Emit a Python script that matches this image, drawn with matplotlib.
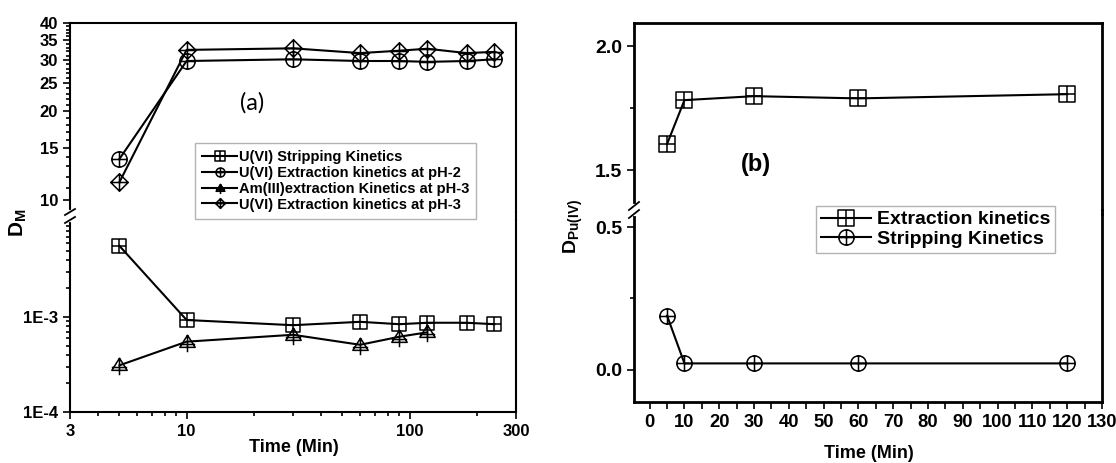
import matplotlib
matplotlib.use("Agg")
import matplotlib.pyplot as plt
from matplotlib.lines import Line2D
from matplotlib.path import Path
from matplotlib.ticker import FixedLocator, NullFormatter, LogLocator

# ---- data ----
# panel (a): log time axis
time_a = [5, 10, 30, 60, 90, 120, 180, 240]
time_am = [5, 10, 30, 60, 90, 120]
u_strip = [5.6e-3, 9.3e-4, 8.2e-4, 8.9e-4, 8.4e-4, 8.7e-4, 8.7e-4, 8.4e-4]
u_ext_ph2 = [13.8, 29.7, 30.1, 29.7, 29.7, 29.5, 29.7, 30.1]
am_ext_ph3 = [3.1e-4, 5.5e-4, 6.5e-4, 5.1e-4, 6.2e-4, 6.9e-4]
u_ext_ph3 = [11.5, 32.4, 32.8, 31.6, 32.2, 32.7, 31.6, 31.9]
labels_a = [
    "U(VI) Stripping Kinetics",
    "U(VI) Extraction kinetics at pH-2",
    "Am(III)extraction Kinetics at pH-3",
    "U(VI) Extraction kinetics at pH-3",
]

# panel (b): linear time axis
time_b = [5, 10, 30, 60, 120]
pu_ext = [1.605, 1.782, 1.798, 1.789, 1.806]
pu_strip = [0.19, 0.023, 0.023, 0.023, 0.023]
labels_b = ["Extraction kinetics", "Stripping Kinetics"]

plt.rcParams["font.family"] = ["Liberation Sans", "DejaVu Sans"]
plt.rcParams["font.weight"] = "bold"
plt.rcParams["mathtext.fontset"] = "custom"
plt.rcParams["mathtext.rm"] = "Liberation Sans"
plt.rcParams["mathtext.bf"] = "Liberation Sans:bold"

W, H = 1116, 463


def fx(px):
    return px / W


def fy(py):
    return 1 - py / H


def rect(left, top, right, bottom):
    return [fx(left), fy(bottom), (right - left) / W, (bottom - top) / H]


# Origin-style symbols: outline with a cross inside
M, L, C = Path.MOVETO, Path.LINETO, Path.CLOSEPOLY
cross = Path([(-1, 0), (1, 0), (0, -1), (0, 1)], [M, L, M, L])
sq_plus = Path.make_compound_path(
    Path([(-1, -1), (1, -1), (1, 1), (-1, 1), (-1, -1)], [M, L, L, L, C]), cross)
circ_plus = Path.make_compound_path(Path.unit_circle(), cross)
dia_plus = Path.make_compound_path(
    Path([(0, -1), (1, 0), (0, 1), (-1, 0), (0, -1)], [M, L, L, L, C]), cross)
tri_plus = Path.make_compound_path(
    Path([(0, 0.9), (0.95, -0.6), (-0.95, -0.6), (0, 0.9)], [M, L, L, C]),
    Path([(-0.95, -0.25), (0.95, -0.25), (0, 0.9), (0, -1.2)], [M, L, M, L]))

line_kw = dict(color="black", lw=1.5, mfc="none", mec="black", mew=1.1)

fig = plt.figure(figsize=(W / 100, H / 100), dpi=100)


def style_axes(ax, size, lw):
    ax.patch.set_visible(False)
    for s in ax.spines.values():
        s.set_linewidth(lw)
    ax.tick_params(which="both", direction="out", labelsize=size, width=1.2)
    ax.tick_params(which="major", length=5)
    ax.tick_params(which="minor", length=3)


def break_marks(x, y0, y1, slant):
    # white gap on the spine plus two short slashes
    fig.add_artist(Line2D([fx(x), fx(x)], [fy(y0), fy(y1)], color="white", lw=3))
    for y in (y0, y1):
        fig.add_artist(Line2D([fx(x - 5), fx(x + 5)], [fy(y + slant), fy(y - slant)],
                              color="black", lw=1.3))


# ---------------- panel (a) ----------------
a_top = fig.add_axes(rect(70, 23, 516, 212))
a_bot = fig.add_axes(rect(70, 220, 516, 412), sharex=a_top)
for ax in (a_top, a_bot):
    style_axes(ax, 12, 1.5)
    ax.set_xscale("log")
    ax.set_yscale("log")

a_top.plot(time_a, u_ext_ph2, marker=circ_plus, ms=11, **line_kw)
a_top.plot(time_a, u_ext_ph3, marker=dia_plus, ms=12.5, **line_kw)
a_bot.plot(time_a, u_strip, marker=sq_plus, ms=10, **line_kw)
a_bot.plot(time_am, am_ext_ph3, marker=tri_plus, ms=14, **line_kw)

a_top.set_ylim(9.1, 40)
a_top.set_yticks([10, 15, 20, 25, 30, 35, 40], labels=["10", "15", "20", "25", "30", "35", "40"])
a_top.yaxis.set_minor_locator(FixedLocator(range(10, 41)))
a_top.yaxis.set_minor_formatter(NullFormatter())
a_top.spines["bottom"].set_visible(False)
a_top.tick_params(axis="x", which="both", bottom=False, labelbottom=False)

a_bot.set_ylim(1e-4, 1.05e-2)
a_bot.set_yticks([1e-4, 1e-3], labels=["1E-4", "1E-3"])
a_bot.yaxis.set_minor_locator(LogLocator(base=10, subs=range(2, 10)))
a_bot.yaxis.set_minor_formatter(NullFormatter())
a_bot.spines["top"].set_visible(False)

a_bot.set_xlim(3, 300)
a_bot.set_xticks([3, 10, 100, 300], labels=["3", "10", "100", "300"])
a_bot.xaxis.set_minor_locator(LogLocator(base=10, subs=range(2, 10)))
a_bot.xaxis.set_minor_formatter(NullFormatter())

fig.add_artist(Line2D([fx(516), fx(516)], [fy(212), fy(220)], color="black", lw=1.5))
break_marks(70, 212, 220, 3)

fig.text(fx(18), fy(223), r"$\mathbf{D_{M}}$", fontsize=15, rotation=90,
         ha="center", va="center")
fig.text(fx(294), fy(447), "Time (Min)", fontsize=13, ha="center", va="center")
fig.text(fx(252), fy(103), "(a)", fontsize=17, fontweight="normal", family="Lato",
         ha="center", va="center")

handles_a = [
    Line2D([], [], marker=sq_plus, ms=6.5, **line_kw),
    Line2D([], [], marker=circ_plus, ms=6.5, **line_kw),
    Line2D([], [], marker=tri_plus, ms=8, **line_kw),
    Line2D([], [], marker=dia_plus, ms=7, **line_kw),
]
leg_a = fig.legend(handles_a, labels_a, loc="upper left",
                   bbox_to_anchor=(fx(195), fy(143)), fontsize=10.5, frameon=True,
                   fancybox=False, edgecolor="#a0a0a0", handlelength=2.4,
                   handletextpad=0.1, borderpad=0.5, labelspacing=0.12,
                   borderaxespad=0)
leg_a.get_frame().set_linewidth(1.0)

# ---------------- panel (b) ----------------
b_top = fig.add_axes(rect(634, 23, 1102, 210))
b_bot = fig.add_axes(rect(634, 214, 1102, 402), sharex=b_top)
for ax in (b_top, b_bot):
    style_axes(ax, 14, 2.0)

b_top.plot(time_b, pu_ext, marker=sq_plus, ms=11, **line_kw)
b_bot.plot(time_b, pu_strip, marker=circ_plus, ms=11, **line_kw)

b_top.set_ylim(1.339, 2.093)
b_top.set_yticks([1.5, 2.0], labels=["1.5", "2.0"])
b_top.yaxis.set_minor_locator(FixedLocator([1.75]))
b_top.spines["bottom"].set_visible(False)
b_top.tick_params(axis="x", which="both", bottom=False, labelbottom=False)

b_bot.set_ylim(-0.112, 0.5455)
b_bot.set_yticks([0.0, 0.5], labels=["0.0", "0.5"])
b_bot.yaxis.set_minor_locator(FixedLocator([0.25]))
b_bot.spines["top"].set_visible(False)

b_bot.set_xlim(-4.5, 130)
b_bot.set_xticks(range(0, 131, 10), labels=[str(v) for v in range(0, 131, 10)])
b_bot.xaxis.set_minor_locator(FixedLocator(range(-5, 131, 5)))
b_bot.tick_params(axis="x", which="both", length=5, labelsize=13.2)

fig.add_artist(Line2D([fx(1102), fx(1102)], [fy(210), fy(214)], color="black", lw=2.0))
break_marks(634, 206, 214, 4)

fig.text(fx(573), fy(226), r"$\mathbf{D_{Pu(IV)}}$", fontsize=14, rotation=90,
         ha="center", va="center")
fig.text(fx(869), fy(454), "Time (Min)", fontsize=13, ha="center", va="center")
fig.text(fx(756), fy(165), "(b)", fontsize=17, ha="center", va="center")

handles_b = [
    Line2D([], [], marker=sq_plus, ms=11, **line_kw),
    Line2D([], [], marker=circ_plus, ms=11, **line_kw),
]
leg_b = fig.legend(handles_b, labels_b, loc="upper left",
                   bbox_to_anchor=(fx(816), fy(206)), fontsize=14, frameon=True,
                   fancybox=False, edgecolor="#a0a0a0", handlelength=2.6,
                   handletextpad=0.3, borderpad=0.25, labelspacing=0.1,
                   borderaxespad=0)
leg_b.get_frame().set_linewidth(1.0)

fig.savefig("out.png", dpi=100)
